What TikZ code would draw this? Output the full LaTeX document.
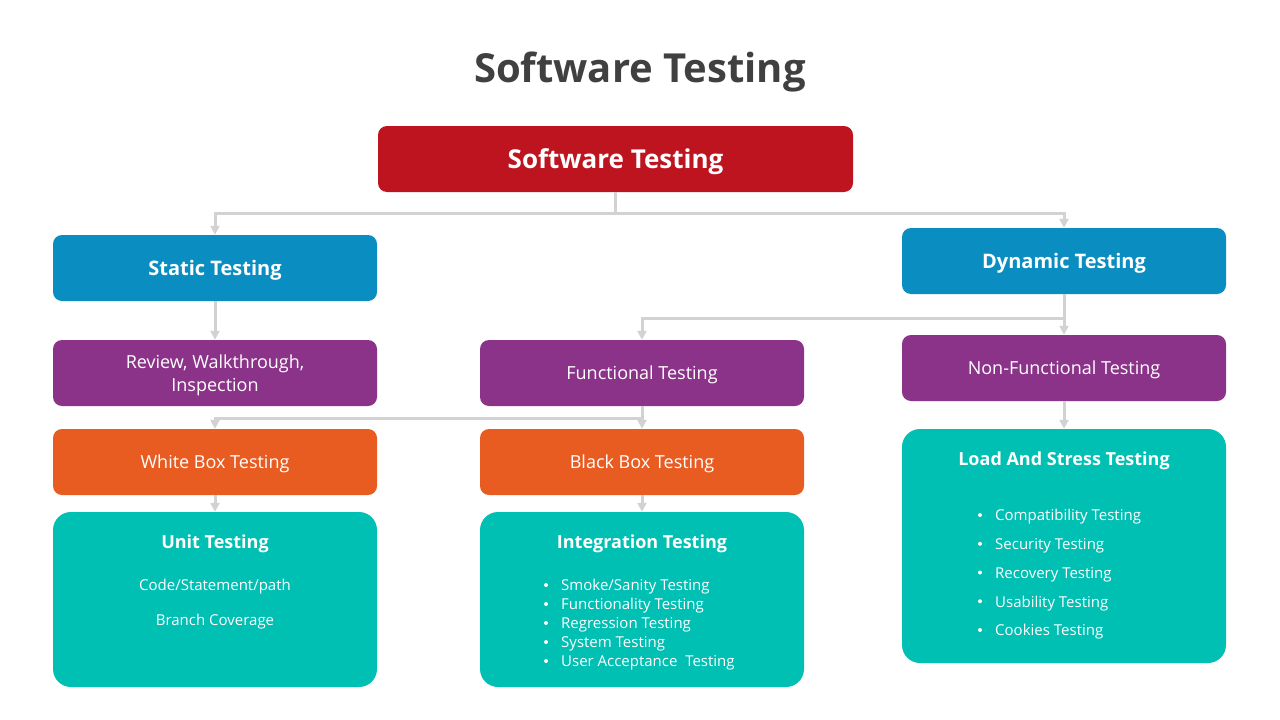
\documentclass[tikz,border=0pt]{standalone}
\usepackage{fontspec}
\setmainfont{Open Sans}
\usetikzlibrary{positioning,arrows.meta}
\definecolor{stred}{HTML}{BE1420}
\definecolor{stblue}{HTML}{0A8DC0}
\definecolor{stpurple}{HTML}{8B3389}
\definecolor{storange}{HTML}{E85C22}
\definecolor{stteal}{HTML}{00BFB3}
\definecolor{stgray}{HTML}{D2D2D2}
\definecolor{sttitle}{HTML}{404040}
\tikzset{
    box/.style={rounded corners=9pt, minimum width=324pt, minimum height=66pt,
        inner sep=0pt, text=white, align=center, text depth=0pt},
    bigbox/.style={box, rounded corners=18pt},
    link/.style={draw=stgray, line width=3pt},
    linkarrow/.style={link, -{Triangle[length=9pt,width=9pt]}},
    item/.style={anchor=west, text=white, font=\fontsize{15}{18}\selectfont, inner sep=0pt},
    dot/.style={circle, fill=white, inner sep=0pt, minimum size=4pt}
}

\begin{document}
\begin{tikzpicture}[x=1pt, y=-1pt]
    \useasboundingbox (0,0) rectangle (1280,720);

    % heading
    \node[text=sttitle, font=\fontsize{40}{46}\selectfont\bfseries] (heading) at (640,72) {Software Testing};

    % top level
    \node[box, fill=stred, minimum width=475pt, font=\fontsize{26}{30}\selectfont\bfseries] (root) at (615.5,159) {Software Testing};

    % second level
    \node[box, fill=stblue, font=\fontsize{20}{24}\selectfont\bfseries] (static) at (215,268) {Static Testing};
    \node[box, fill=stblue, font=\fontsize{20}{24}\selectfont\bfseries] (dynamic) at (1064,261) {Dynamic Testing};

    % third level
    \node[box, fill=stpurple, font=\fontsize{18}{23}\selectfont] (review) at (215,373) {Review, Walkthrough,\\Inspection};
    \node[box, fill=stpurple, font=\fontsize{18}{22}\selectfont] (functional) at (642,373) {Functional Testing};
    \node[box, fill=stpurple, font=\fontsize{18}{22}\selectfont] (nonfunctional) at (1064,368) {Non-Functional Testing};

    % fourth level
    \node[box, fill=storange, font=\fontsize{18}{22}\selectfont] (whitebox) at (215,462) {White Box Testing};
    \node[box, fill=storange, font=\fontsize{18}{22}\selectfont] (blackbox) at (642,462) {Black Box Testing};

    % leaves
    \node[bigbox, fill=stteal, minimum height=175pt] (unit) at (215,599.5) {};
    \node[bigbox, fill=stteal, minimum height=175pt] (integration) at (642,599.5) {};
    \node[bigbox, fill=stteal, minimum height=234pt] (load) at (1064,546) {};

    \node[text=white, font=\fontsize{18}{22}\selectfont\bfseries] (unittitle) at (215,544) {Unit Testing};
    \node[text=white, font=\fontsize{15}{18}\selectfont] (unitcode) at (215,587) {Code/Statement/path};
    \node[text=white, font=\fontsize{15}{18}\selectfont] (unitbranch) at (215,622) {Branch Coverage};

    \node[text=white, font=\fontsize{18}{22}\selectfont\bfseries] (inttitle) at (642,544) {Integration Testing};
    \foreach \txt [count=\i] in {Smoke/Sanity Testing, Functionality Testing, Regression Testing,
        System Testing, User Acceptance\ \ Testing}{
        \node[dot] (intdot\i) at (546,585+19*\i-19) {};
        \node[item] (int\i) at (561,587+19*\i-19) {\txt};
    }

    \node[text=white, font=\fontsize{18}{22}\selectfont\bfseries] (loadtitle) at (1064,461) {Load And Stress Testing};
    \foreach \txt [count=\i] in {Compatibility Testing, Security Testing, Recovery Testing,
        Usability Testing, Cookies Testing}{
        \node[dot] (loaddot\i) at (980,515+28.75*\i-28.75) {};
        \node[item] (load\i) at (995,517+28.75*\i-28.75) {\txt};
    }

    % connectors
    \coordinate (rootsplit) at (root.south |- 0,213);
    \draw[link] (root.south) -- (rootsplit);
    \draw[linkarrow] (rootsplit) -| (static.north);
    \draw[linkarrow] (rootsplit) -| (dynamic.north);

    \draw[linkarrow] (static) -- (review);

    \coordinate (dynsplit) at (dynamic.south |- 0,318);
    \draw[link] (dynamic.south) -- (dynsplit);
    \draw[linkarrow] (dynsplit) -| (functional.north);
    \draw[linkarrow] (dynsplit) -- (nonfunctional.north);

    \coordinate (funsplit) at (functional.south |- 0,418);
    \draw[link] (functional.south) -- (funsplit);
    \draw[linkarrow] (funsplit) -| (whitebox.north);
    \draw[linkarrow] (funsplit) -- (blackbox.north);

    \draw[linkarrow] (whitebox) -- (unit);
    \draw[linkarrow] (blackbox) -- (integration);
    \draw[linkarrow] (nonfunctional) -- (load);
\end{tikzpicture}
\end{document}
